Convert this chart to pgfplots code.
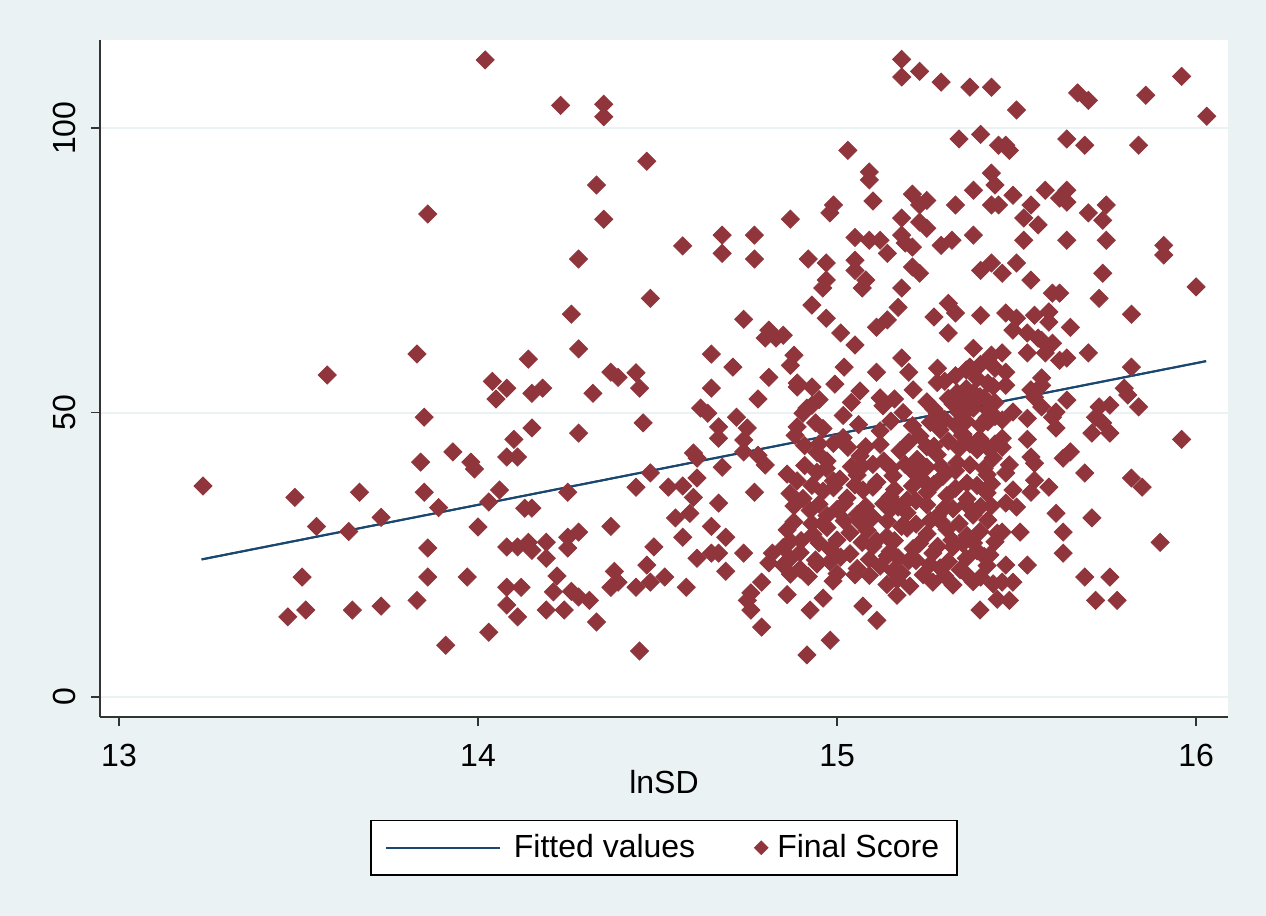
\documentclass[border=0pt]{standalone}
\usepackage{fontspec}
\setmainfont{Liberation Sans}
\usepackage{pgfplots}
\pgfplotsset{compat=1.18}
\definecolor{bgc}{RGB}{234,242,243}
\definecolor{mar}{RGB}{144,53,59}
\definecolor{nav}{RGB}{26,71,111}
\newcommand\fs{\fontsize{16}{19}\selectfont}
\pgfplotsset{
  lineleg/.style={legend image code/.code={\draw[##1] (0pt,0pt) -- (57pt,0pt); \path[draw=none] (0pt,0pt) -- (62pt,0pt);}},
  dotleg/.style={legend image code/.code={\draw[##1, mark size=2.2pt] plot coordinates {(5pt,0pt)}; \path[draw=none] (-8pt,0pt) -- (11pt,0pt);}},
}

\pgfplotstableread{
x y
13.234 37.1
13.49 35.1
13.55 30.0
13.51 21.1
13.47 14.1
13.52 15.3
13.58 56.6
13.67 36.0
13.64 29.1
13.65 15.3
13.73 31.6
13.73 16.0
13.85 49.2
13.84 41.3
13.85 36.0
13.89 33.3
13.86 26.2
13.86 21.1
13.83 17.0
13.91 9.1
13.93 43.1
13.98 41.3
13.99 40.1
14.00 29.9
13.97 21.1
13.86 84.9
13.83 60.3
14.02 112.0
14.23 104.0
14.35 104.2
14.35 102.0
14.47 94.2
14.33 90.0
14.35 84.0
14.57 79.3
14.68 81.2
14.68 78.0
14.77 81.2
14.77 77.0
14.28 77.0
14.48 70.1
14.26 67.3
14.74 66.4
14.81 64.5
14.80 63.1
14.83 63.1
14.28 61.2
14.14 59.4
14.65 60.3
14.71 58.0
14.81 56.2
14.37 57.1
14.39 56.2
14.44 57.0
14.04 55.5
14.05 52.4
14.08 54.3
14.15 53.4
14.18 54.3
14.32 53.4
14.45 54.3
14.65 54.3
14.78 52.4
14.15 47.3
14.10 45.3
14.28 46.4
14.46 48.2
14.62 50.8
14.64 49.9
14.67 47.5
14.67 45.5
14.72 49.2
14.75 47.3
14.74 45.2
14.74 43.1
14.08 42.2
14.11 42.2
14.60 42.9
14.61 42.0
14.68 40.4
14.78 42.5
14.80 40.8
14.48 39.4
14.61 38.5
14.06 36.4
14.03 34.3
14.25 36.0
14.44 36.9
14.53 36.9
14.57 37.1
14.60 35.1
14.67 34.1
14.77 36.0
14.13 33.2
14.15 33.2
14.37 30.0
14.55 31.5
14.59 32.3
14.65 30.0
14.69 28.1
14.57 28.1
14.08 26.4
14.11 26.4
14.14 27.2
14.15 25.8
14.19 24.4
14.19 27.2
14.25 28.1
14.28 29.0
14.25 26.2
14.49 26.4
14.47 23.2
14.61 24.4
14.65 25.3
14.67 25.3
14.74 25.3
14.82 25.3
14.81 23.6
14.22 21.3
14.38 22.1
14.39 20.2
14.37 19.3
14.48 20.2
14.52 21.1
14.69 22.1
14.79 20.2
14.08 19.3
14.12 19.3
14.21 18.5
14.26 18.6
14.28 17.6
14.31 17.0
14.44 19.3
14.58 19.3
14.76 18.3
14.75 17.0
14.76 15.3
14.08 16.2
14.11 14.1
14.19 15.3
14.24 15.3
14.33 13.2
14.03 11.4
14.79 12.3
14.45 8.1
15.18 112.1
15.18 109.0
15.23 110.0
15.29 108.1
15.37 107.2
15.43 107.2
15.34 98.1
15.40 98.9
15.45 97.0
15.03 96.1
15.09 92.3
15.09 90.9
15.10 87.2
15.21 88.4
15.23 86.5
15.25 87.3
15.38 89.1
15.43 92.1
15.44 90.0
15.43 86.5
15.33 86.5
14.99 86.5
14.98 85.1
14.87 84.0
15.18 84.2
15.23 83.5
15.25 82.4
15.05 80.8
15.09 80.3
15.12 80.3
15.14 78.0
15.18 81.2
15.19 79.8
15.21 79.1
15.29 79.4
15.32 80.3
15.38 81.2
14.92 77.0
14.97 76.3
14.97 73.3
14.96 71.9
15.05 76.8
15.05 75.0
15.08 73.3
15.07 71.9
15.21 75.6
15.23 74.5
15.40 75.0
15.43 76.3
14.93 68.9
15.18 71.9
14.97 66.6
15.01 64.0
15.11 65.0
15.14 66.3
15.17 68.5
15.27 66.8
15.31 69.2
15.33 67.5
15.31 64.0
15.40 67.1
15.05 61.9
15.38 61.3
15.43 60.1
14.88 60.1
14.87 58.3
14.85 63.6
15.02 58.0
15.11 57.1
15.18 59.6
15.20 57.1
15.28 57.8
15.37 58.0
15.42 59.2
14.889 55.2
14.930 54.5
14.930 51.3
14.905 49.9
14.889 47.5
14.889 54.5
14.994 55.0
15.064 53.8
15.120 52.6
15.212 54.0
15.279 55.3
15.334 53.5
15.398 52.8
15.435 54.6
14.916 50.8
15.017 49.5
15.128 51.2
15.184 50.0
15.279 49.8
15.323 51.5
15.362 50.3
15.418 49.1
14.883 46.0
14.961 47.2
15.017 45.6
15.120 46.8
15.231 45.9
15.287 47.0
15.351 46.2
15.398 45.4
14.944 43.0
14.972 41.5
15.064 42.4
15.100 40.9
15.175 43.3
15.223 41.8
15.279 42.6
15.334 41.2
15.390 43.5
15.435 42.0
14.861 39.2
14.889 38.0
14.944 39.5
15.008 38.3
15.056 39.0
15.111 37.8
15.156 38.9
15.212 39.6
15.240 38.1
15.295 38.8
15.362 37.6
15.418 39.1
14.869 35.8
14.905 34.9
14.961 36.2
15.028 35.0
15.072 36.4
15.148 35.2
15.195 34.6
15.251 36.0
15.306 35.4
15.362 34.8
15.418 35.9
14.925 32.8
14.972 31.9
15.000 33.0
15.056 32.1
15.100 31.6
15.148 32.9
15.195 32.4
15.279 31.8
15.323 33.1
15.379 32.0
14.861 29.4
14.933 28.6
14.972 29.8
15.036 28.9
15.084 29.3
15.139 28.2
15.195 29.7
15.251 28.7
15.306 29.5
15.362 28.4
15.398 29.1
15.446 28.8
14.850 26.3
14.897 25.4
14.981 26.0
15.036 25.2
15.100 26.5
15.148 25.6
15.212 26.1
15.267 25.3
15.323 26.4
15.390 25.7
15.426 25.0
14.850 23.2
14.897 22.5
14.944 23.4
15.056 22.6
15.120 23.0
15.156 22.2
15.259 23.3
15.287 22.7
15.343 22.4
15.418 23.1
14.989 20.4
15.139 19.8
15.167 20.6
15.203 19.5
15.267 20.2
15.323 19.7
15.379 20.3
15.435 19.9
14.861 18.0
14.961 17.4
15.167 17.9
15.446 17.2
14.925 15.3
15.072 16.0
15.398 15.3
15.111 13.5
14.981 10.0
14.916 7.4
15.30 55.5
15.33 56.5
15.36 54.2
15.39 56.0
15.42 55.2
15.35 52.0
15.38 50.8
15.31 52.5
15.27 50.6
15.40 47.8
15.36 48.5
15.31 45.0
15.34 43.7
15.44 44.5
15.25 44.0
15.29 40.5
15.33 39.8
15.41 40.2
15.04 40.5
15.08 44.0
15.13 41.5
15.16 36.5
15.02 34.0
15.06 31.0
15.11 27.5
15.18 30.0
15.22 34.5
15.26 31.0
15.28 26.5
15.20 24.0
15.35 27.0
15.40 33.5
15.43 37.5
14.95 44.5
14.99 38.0
14.93 30.5
14.90 27.5
14.98 23.8
15.05 21.5
15.14 24.8
15.24 21.5
15.31 23.8
14.95 52.3
15.04 51.8
15.16 52.4
15.25 51.9
15.32 52.2
15.37 51.7
15.41 52.6
15.44 51.8
14.94 48.2
15.06 47.9
15.15 48.5
15.21 47.7
15.26 48.3
15.33 47.8
15.42 48.4
14.91 44.2
14.99 44.6
15.03 43.9
15.12 44.4
15.20 44.8
15.27 44.1
15.37 44.5
15.42 43.8
14.91 40.7
14.97 40.2
15.07 40.6
15.15 40.3
15.19 40.9
15.25 40.4
15.37 40.8
14.93 37.2
14.99 36.8
15.05 37.3
15.10 36.9
15.21 37.1
15.27 37.4
15.33 36.7
15.39 37.2
14.88 33.6
14.95 33.9
15.08 33.5
15.13 34.0
15.17 33.4
15.25 33.8
15.30 33.3
15.36 33.9
15.43 33.6
14.88 30.8
14.96 30.5
15.02 31.0
15.08 30.6
15.14 30.9
15.22 30.4
15.29 30.8
15.34 30.5
15.42 31.1
14.87 27.4
14.95 27.1
15.00 27.6
15.07 27.2
15.16 27.5
15.23 27.0
15.32 27.6
15.38 27.1
15.44 27.3
14.87 24.4
14.94 24.1
15.01 24.6
15.09 24.2
15.17 24.5
15.22 24.0
15.36 24.4
15.41 24.7
14.87 21.6
14.92 21.2
15.00 21.7
15.09 21.4
15.18 21.8
15.30 21.3
15.36 21.6
15.40 21.1
15.36 57.5
15.40 58.5
15.44 57.8
15.38 53.5
15.42 50.5
15.44 49.3
15.34 50.0
15.30 48.8
15.39 45.0
15.35 46.0
15.50 103.2
15.67 106.2
15.70 104.9
15.86 105.8
15.96 109.1
16.03 102.1
15.47 97.0
15.48 96.1
15.64 98.1
15.69 97.0
15.84 97.0
15.49 88.2
15.58 89.1
15.62 87.7
15.64 89.1
15.64 87.0
15.54 86.5
15.52 84.2
15.56 83.0
15.70 85.1
15.75 86.5
15.74 83.8
15.45 86.5
15.52 80.3
15.64 80.3
15.75 80.3
15.91 79.4
15.91 77.7
15.50 76.3
15.46 74.5
15.54 73.3
15.74 74.5
15.60 71.0
15.62 71.0
15.73 70.1
16.00 72.1
15.47 67.5
15.50 66.6
15.49 64.5
15.55 67.1
15.59 67.7
15.59 65.9
15.65 65.0
15.82 67.3
15.53 64.0
15.56 63.1
15.57 62.7
15.60 62.2
15.58 60.5
15.62 59.2
15.64 59.6
15.53 60.5
15.70 60.5
15.82 58.0
15.46 60.5
15.47 57.1
15.57 56.1
15.47 54.8
15.54 54.0
15.57 54.8
15.55 52.7
15.64 52.2
15.80 54.3
15.81 53.1
15.84 51.0
15.57 51.0
15.61 50.1
15.60 49.2
15.73 51.0
15.76 51.3
15.72 49.2
15.74 48.2
15.49 50.1
15.46 48.7
15.53 49.0
15.61 47.3
15.71 46.4
15.76 46.4
15.96 45.3
15.53 45.3
15.46 45.5
15.46 43.9
15.54 42.2
15.55 41.1
15.63 42.0
15.65 43.1
15.48 40.8
15.47 39.4
15.69 39.4
15.82 38.5
15.85 36.9
15.55 38.1
15.54 36.0
15.59 36.9
15.49 36.4
15.47 34.1
15.50 33.4
15.61 32.3
15.71 31.5
15.51 29.0
15.46 29.0
15.63 29.0
15.90 27.2
15.63 25.3
15.47 23.2
15.53 23.2
15.49 20.2
15.46 20.2
15.69 21.1
15.76 21.1
15.48 17.0
15.72 17.0
15.78 17.0
}\scoredata

\begin{document}
\begin{tikzpicture}
\fill[bgc] (-50pt,-99.5pt) rectangle (583pt,358.5pt);
\begin{axis}[
  at={(0,0)}, anchor=south west,
  scale only axis,
  width=564pt, height=338.5pt,
  xmin=12.947, xmax=16.089,
  ymin=-3.5, ymax=115.5,
  xtick={13,14,15,16}, ytick={0,50,100},
  axis x line*=bottom, axis y line*=left,
  axis line style={black!80, line width=1pt, -},
  axis background/.style={fill=white},
  tick style={black!80, line width=0.8pt},
  tick align=outside, major tick length=4.5pt,
  ymajorgrids, grid style={bgc, line width=1pt},
  /pgf/number format/assume math mode=true,
  tick label style={font=\fs},
  yticklabel style={rotate=90, anchor=south, inner ysep=7.5pt},
  xticklabel style={yshift=-5.5pt},
  label style={font=\fs},
  xlabel={lnSD},
  xlabel style={yshift=5pt},
  legend columns=2,
  legend style={at={(0.5,-0.152)}, anchor=north, draw=black, line width=0.8pt,
    fill=white, font=\fs, inner xsep=7pt, inner ysep=5pt,
    /tikz/every even column/.append style={column sep=18pt}},
]
\addplot[nav, line width=1pt, lineleg]
  coordinates {(13.230,24.2) (16.028,59.05)};
\addlegendentry{Fitted values}
\addplot[only marks, mark=square*, mark size=3.2pt, color=mar,
  mark options={rotate=45, draw=mar, fill=mar}, dotleg]
  table[x=x, y=y] {\scoredata};
\addlegendentry{Final Score}
\addplot[nav, line width=1pt, forget plot]
  coordinates {(13.230,24.2) (16.028,59.05)};
\end{axis}
\end{tikzpicture}
\end{document}
